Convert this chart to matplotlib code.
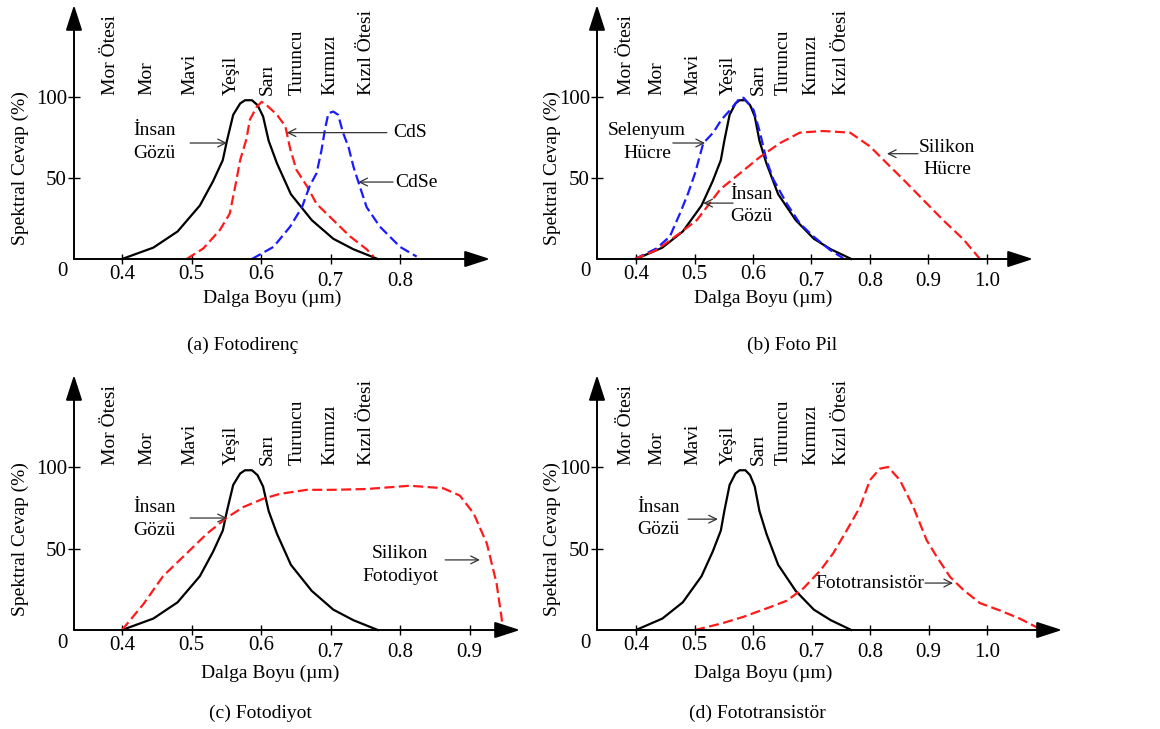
import matplotlib.pyplot as plt

plt.rcParams["font.family"] = ["Liberation Serif", "DejaVu Serif"]
plt.rcParams["font.size"] = 14

W, H = 1160, 729

# colour bands written vertically over each plot (wavelength, um)
BANDS = ["Mor Ötesi", "Mor", "Mavi", "Yeşil", "Sarı", "Turuncu", "Kırmızı", "Kızıl Ötesi"]
BAND_X = [0.383, 0.436, 0.498, 0.557, 0.609, 0.652, 0.699, 0.752]

# human eye (same curve in every panel)
EYE_X = [0.400, 0.445, 0.480, 0.512, 0.531, 0.545, 0.551, 0.560, 0.570, 0.577,
         0.587, 0.595, 0.603, 0.611, 0.623, 0.643, 0.673, 0.704, 0.733, 0.768]
EYE_Y = [0, 7, 17, 33, 48, 61, 73, 89, 96, 98, 98, 95, 88, 73, 59, 40, 24, 12.5, 6, 0]

# (a) photoresistors
CDS_X = [0.493, 0.517, 0.541, 0.555, 0.563, 0.570, 0.579, 0.584, 0.594, 0.601, 0.608,
         0.623, 0.635, 0.642, 0.651, 0.666, 0.680, 0.704, 0.728, 0.752, 0.762]
CDS_Y = [0, 6.5, 18, 28, 45, 61, 74, 86, 94, 97, 95, 89, 82, 68, 55, 45, 34, 24, 14, 6, 1.5]
CDSE_X = [0.587, 0.618, 0.642, 0.659, 0.670, 0.680, 0.687, 0.692, 0.697, 0.704,
          0.711, 0.718, 0.726, 0.733, 0.742, 0.752, 0.771, 0.800, 0.824]
CDSE_Y = [0, 7.5, 20, 32, 45, 53, 67, 80, 90, 91, 89, 78, 69, 57, 45, 32, 20, 7.5, 1.5]

# (b) photo cells
SE_X = [0.398, 0.435, 0.458, 0.475, 0.489, 0.501, 0.515, 0.532, 0.546, 0.561, 0.578,
        0.584, 0.601, 0.612, 0.623, 0.635, 0.658, 0.680, 0.703, 0.732, 0.754]
SE_Y = [0, 6.5, 14, 28, 40.5, 53, 71.5, 78, 86, 92, 99.5, 99.5, 92, 78, 61, 49, 34, 22, 14, 5.5, 0.5]
SI_CELL_X = [0.398, 0.435, 0.475, 0.504, 0.521, 0.544, 0.578, 0.612, 0.646, 0.680,
             0.720, 0.766, 0.800, 0.829, 0.857, 0.891, 0.925, 0.960, 0.988]
SI_CELL_Y = [0, 5.5, 16, 24, 32, 43, 53, 63, 71.5, 78, 79, 78, 69.5, 59, 49, 36.5, 24, 12, 0]

# (c) photodiode
SI_DIODE_X = [0.400, 0.431, 0.459, 0.493, 0.522, 0.551, 0.575, 0.603, 0.627, 0.666,
              0.704, 0.752, 0.814, 0.862, 0.886, 0.906, 0.925, 0.939, 0.946, 0.948]
SI_DIODE_Y = [0, 16, 33, 47, 59, 69, 75.5, 80.5, 83.5, 86, 86, 86.5, 88.5, 87, 82.5, 71.5, 53, 28.5, 8, 0]

# (d) phototransistor
PT_X = [0.501, 0.546, 0.583, 0.629, 0.658, 0.686, 0.715, 0.737, 0.760, 0.783, 0.800, 0.817,
        0.831, 0.851, 0.874, 0.897, 0.914, 0.937, 0.960, 0.988, 1.022, 1.056, 1.094]
PT_Y = [0, 4, 8, 14, 18, 25.5, 36.5, 47, 61, 75.5, 92, 99, 100, 92, 75.5, 55, 45, 32.5, 24.5, 16.5, 12, 7, 0]

TICKS_A = [0.4, 0.5, 0.6, 0.7, 0.8]
TICKS_B = [0.4, 0.5, 0.6, 0.7, 0.8, 0.9, 1.0]
TICKS_C = [0.4, 0.5, 0.6, 0.7, 0.8, 0.9]

RED = "#ff1a1a"
BLUE = "#1a1aff"


def make_panel(fig, ox, oy, tip_x, top_y, px04, px01, py100, ticks):
    # place axes by pixel: origin (ox, oy), arrow tips at tip_x / top_y
    ax = fig.add_axes([ox / W, 1 - oy / H, (tip_x - ox) / W, (oy - top_y) / H])
    ax.set_xlim(0.4 + (ox - px04) / (px01 * 10), 0.4 + (tip_x - px04) / (px01 * 10))
    ax.set_ylim(0, (oy - top_y) / (oy - py100) * 100)
    for s in ax.spines.values():
        s.set_visible(False)
    arrow = dict(arrowstyle="-|>,head_length=1.3,head_width=0.42", mutation_scale=12,
                 lw=1.4, color="k", shrinkA=0, shrinkB=0)
    ax.annotate("", xy=(1, 0), xytext=(0, 0), xycoords="axes fraction", arrowprops=arrow,
                annotation_clip=False)
    ax.annotate("", xy=(0, 1), xytext=(0, 0), xycoords="axes fraction", arrowprops=arrow,
                annotation_clip=False)

    ax.set_xticks(ticks)
    ax.set_xticklabels(["%.1f" % t for t in ticks])
    ax.set_yticks([50, 100])
    ax.set_yticklabels(["50", "100"])
    ax.tick_params(axis="x", direction="inout", length=7, width=1, pad=1, labelsize=15)
    ax.tick_params(axis="y", direction="inout", length=8, width=1, pad=1, labelsize=15)
    for tick in ax.xaxis.get_major_ticks()[3:]:
        tick.set_pad(6)
    ax.annotate("0", xy=(0, 0), xycoords="axes fraction", xytext=(-12, -13),
                textcoords="offset pixels", ha="center", va="center", fontsize=15)

    for name, x in zip(BANDS, BAND_X):
        ax.text(x, 101, name, rotation=90, ha="center", va="bottom")

    ax.plot(EYE_X, EYE_Y, color="k", lw=1.6, clip_on=False)
    return ax


def dashed(ax, x, y, color):
    ax.plot(x, y, color=color, lw=1.6, dashes=(4.5, 2), clip_on=False)


def note(ax, text, xy, tail, head, ha="center"):
    ax.text(xy[0], xy[1], text, ha=ha, va="center", linespacing=1.45)
    ax.annotate("", xy=head, xytext=tail,
                arrowprops=dict(arrowstyle="->", lw=0.9, color="#333333",
                                shrinkA=0, shrinkB=0))


def fig_text(fig, px, py, text, **kw):
    fig.text(px / W, 1 - py / H, text, ha="center", va="center", **kw)


fig = plt.figure(figsize=(W / 100, H / 100), dpi=100)

# (a) Fotodirenç
ax = make_panel(fig, 74, 259, 490, 5, 122, 69.5, 97, TICKS_A)
dashed(ax, CDS_X, CDS_Y, RED)
dashed(ax, CDSE_X, CDSE_Y, BLUE)
note(ax, "İnsan\nGözü", (0.447, 72), (0.498, 71.6), (0.551, 71.6))
note(ax, "CdS", (0.790, 78), (0.781, 78), (0.637, 78), ha="left")
note(ax, "CdSe", (0.793, 47.5), (0.790, 47.5), (0.740, 47.5), ha="left")

# (b) Foto Pil
ax = make_panel(fig, 597, 259, 1033, 5, 636, 58.5, 97, TICKS_B)
dashed(ax, SE_X, SE_Y, BLUE)
dashed(ax, SI_CELL_X, SI_CELL_Y, RED)
note(ax, "Selenyum\nHücre", (0.419, 72), (0.463, 71.6), (0.518, 71.6))
note(ax, "İnsan\nGözü", (0.598, 33), (0.566, 34.5), (0.515, 34.5))
note(ax, "Silikon\nHücre", (0.932, 62), (0.882, 65), (0.829, 65))

# (c) Fotodiyot
ax = make_panel(fig, 74, 630, 520, 375, 122, 69.5, 467, TICKS_C)
dashed(ax, SI_DIODE_X, SI_DIODE_Y, RED)
note(ax, "İnsan\nGözü", (0.447, 68), (0.498, 68.7), (0.551, 68.7))
note(ax, "Silikon\nFotodiyot", (0.80, 40), (0.865, 43), (0.915, 43))

# (d) Fototransistör
ax = make_panel(fig, 597, 630, 1062, 375, 636, 58.5, 467, TICKS_B)
dashed(ax, PT_X, PT_Y, RED)
note(ax, "İnsan\nGözü", (0.439, 68.4), (0.489, 68), (0.540, 68))
note(ax, "Fototransistör", (0.892, 28.8), (0.894, 28.8), (0.942, 28.8), ha="right")

# axis titles and captions
for px, py in [(20, 168), (552, 168), (20, 539), (552, 539)]:
    fig_text(fig, px, py, "Spektral Cevap (%)", rotation=90)
for px, py in [(272, 298), (763, 298), (270, 673), (763, 673)]:
    fig_text(fig, px, py, "Dalga Boyu (µm)")
fig_text(fig, 243, 345, "(a) Fotodirenç")
fig_text(fig, 792, 345, "(b) Foto Pil")
fig_text(fig, 260, 713, "(c) Fotodiyot")
fig_text(fig, 757, 713, "(d) Fototransistör")

fig.savefig("out.png", dpi=100)
